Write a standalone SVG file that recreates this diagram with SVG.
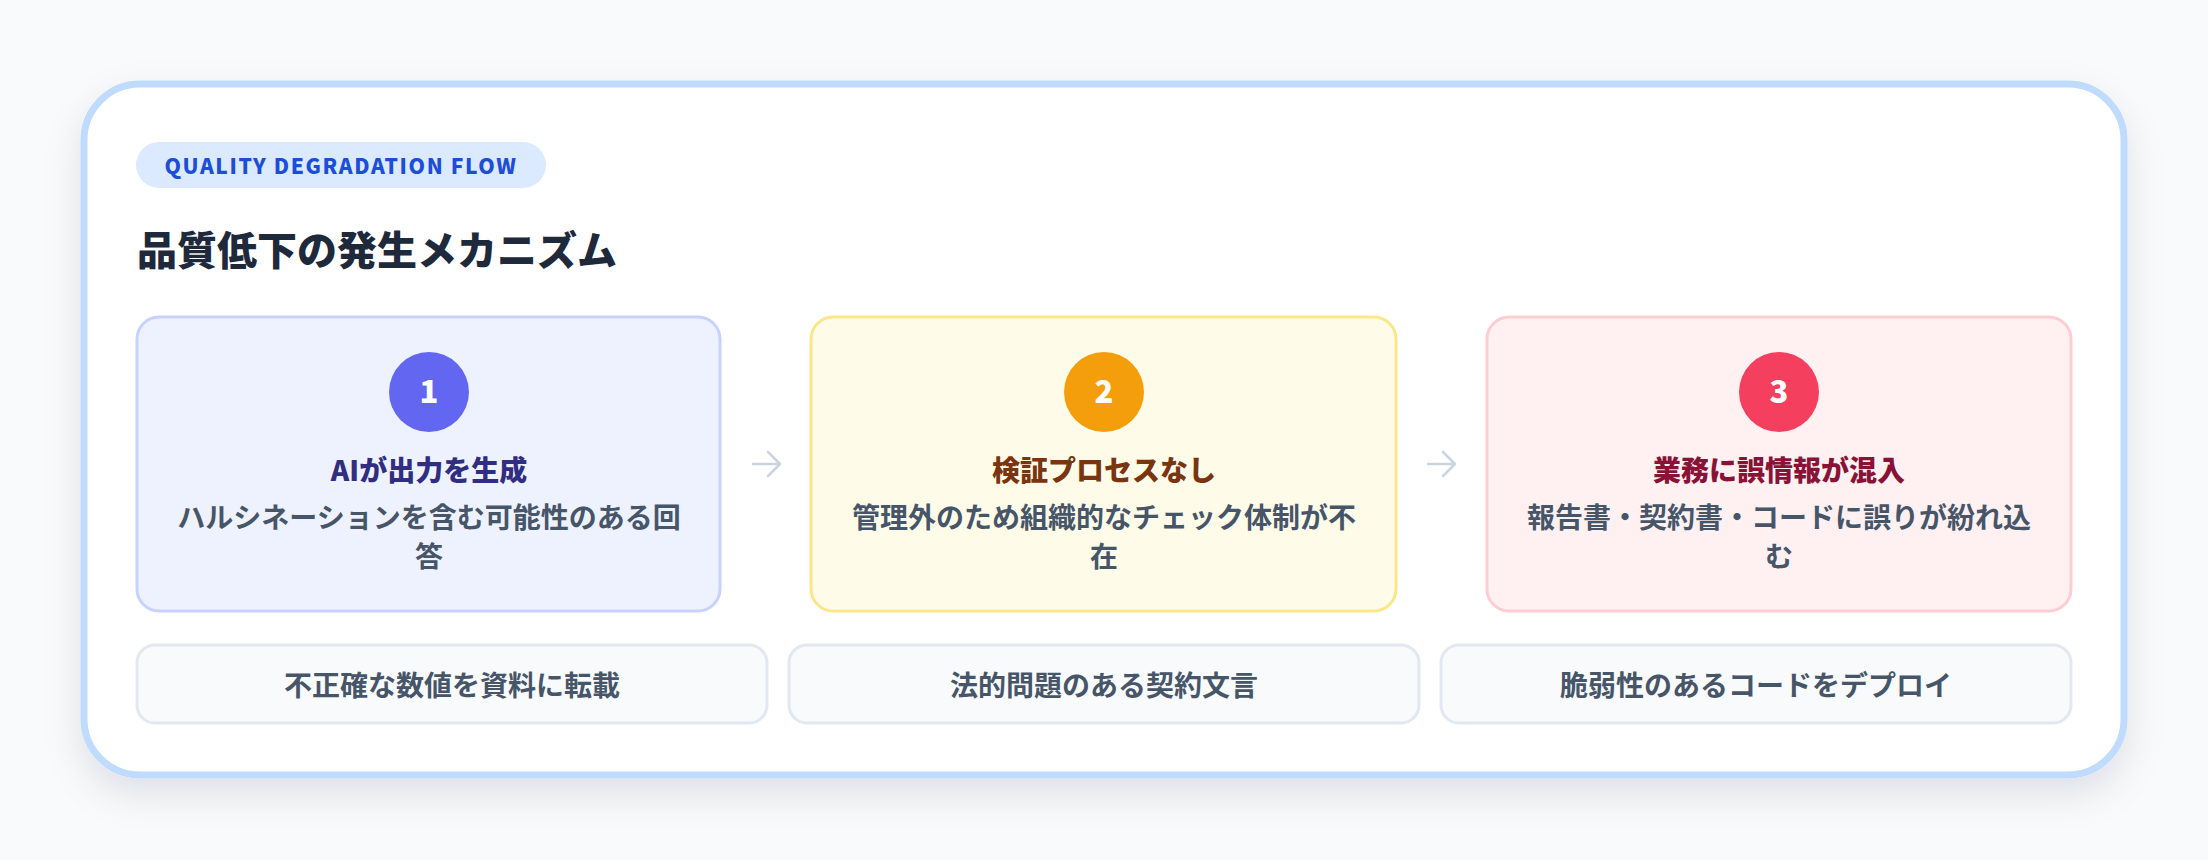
<svg xmlns="http://www.w3.org/2000/svg" width="2208" height="860" viewBox="0 0 2208 860">
  <defs>
    <filter id="shadow" x="-10%" y="-10%" width="120%" height="130%">
      <feDropShadow dx="0" dy="16" stdDeviation="18" flood-color="#0f172a" flood-opacity="0.10"/>
    </filter>
    <style>
      text { font-family: "Noto Sans CJK JP", "Noto Sans", "Liberation Sans", sans-serif; font-weight: 700; text-anchor: middle; }
      .badge-t { font-size: 21px; fill: #1D4ED8; letter-spacing: 1.6px; font-weight: 900; }
      .title { font-size: 40px; fill: #1E293B; text-anchor: start; font-weight: 900; }
      .num { font-size: 31px; fill: #FFFFFF; font-weight: 900; }
      .stitle { font-size: 28px; font-weight: 900; }
      .desc { font-size: 28px; fill: #475569; }
      .btext { font-size: 28px; fill: #475569; }
      .bbox { fill: #F8FAFC; stroke: #E2E8F0; stroke-width: 3; }
      .conn { fill: none; stroke: #CBD5E1; stroke-width: 2.5; stroke-linecap: round; stroke-linejoin: round; }
    </style>
  </defs>
  <rect x="0" y="0" width="2208" height="860" fill="#F8FAFC"/>
  <g id="card">
    <rect x="84" y="84" width="2040" height="691" rx="56" fill="#FFFFFF" stroke="#BFDBFE" stroke-width="7" filter="url(#shadow)"/>
  </g>
  <g id="badge">
    <rect x="136" y="142" width="410" height="46" rx="23" fill="#DBEAFE"/>
    <text class="badge-t" x="341" y="174">QUALITY DEGRADATION FLOW</text>
  </g>
  <g id="heading">
    <text class="title" x="137" y="265">品質低下の発生メカニズム</text>
  </g>
  <g id="step1">
    <rect x="137" y="317" width="583" height="294" rx="22" fill="#EEF2FF" stroke="#C7D2FE" stroke-width="3"/>
    <circle cx="429" cy="392" r="40" fill="#6366F1"/>
    <text class="num" x="429" y="403">1</text>
    <text class="stitle" x="429" y="481" fill="#312E81">AIが出力を生成</text>
    <text class="desc" x="429" y="528">ハルシネーションを含む可能性のある回</text>
    <text class="desc" x="429" y="567">答</text>
  </g>
  <g id="step2">
    <rect x="811" y="317" width="585" height="294" rx="22" fill="#FEFCE8" stroke="#FDE68A" stroke-width="3"/>
    <circle cx="1104" cy="392" r="40" fill="#F59E0B"/>
    <text class="num" x="1104" y="403">2</text>
    <text class="stitle" x="1104" y="481" fill="#78350F">検証プロセスなし</text>
    <text class="desc" x="1104" y="528">管理外のため組織的なチェック体制が不</text>
    <text class="desc" x="1104" y="567">在</text>
  </g>
  <g id="step3">
    <rect x="1487" y="317" width="584" height="294" rx="22" fill="#FFF1F2" stroke="#FECDD3" stroke-width="3"/>
    <circle cx="1779" cy="392" r="40" fill="#F43F5E"/>
    <text class="num" x="1779" y="403">3</text>
    <text class="stitle" x="1779" y="481" fill="#881337">業務に誤情報が混入</text>
    <text class="desc" x="1779" y="528">報告書・契約書・コードに誤りが紛れ込</text>
    <text class="desc" x="1779" y="567">む</text>
  </g>
  <g id="connectors">
    <path class="conn" d="M753 464 H780 M768 452 L780 464 L768 476"/>
    <path class="conn" d="M1428 464 H1455 M1443 452 L1455 464 L1443 476"/>
  </g>
  <g id="example1">
    <rect class="bbox" x="137" y="645" width="630" height="78" rx="18"/>
    <text class="btext" x="452" y="696">不正確な数値を資料に転載</text>
  </g>
  <g id="example2">
    <rect class="bbox" x="789" y="645" width="630" height="78" rx="18"/>
    <text class="btext" x="1104" y="696">法的問題のある契約文言</text>
  </g>
  <g id="example3">
    <rect class="bbox" x="1441" y="645" width="630" height="78" rx="18"/>
    <text class="btext" x="1756" y="696">脆弱性のあるコードをデプロイ</text>
  </g>
</svg>
